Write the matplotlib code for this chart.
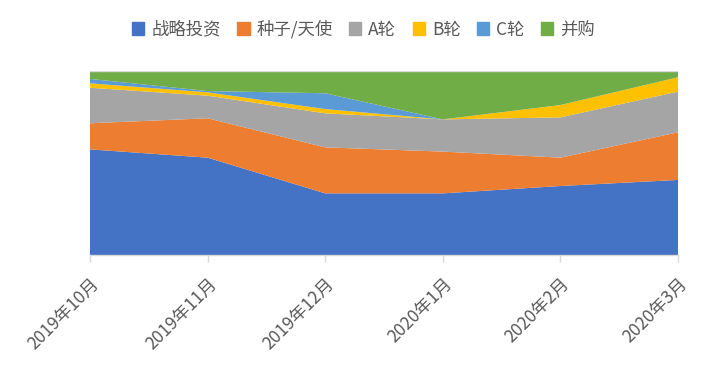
import matplotlib
matplotlib.use("Agg")
import matplotlib.pyplot as plt
import numpy as np

plt.rcParams['font.family'] = ['Noto Sans CJK SC', 'DejaVu Sans']

months = ["2019年10月", "2019年11月", "2019年12月", "2020年1月", "2020年2月", "2020年3月"]
series_names = ["战略投资", "种子/天使", "A轮", "B轮", "C轮", "并购"]
strategic = [57.4, 52.9, 33.5, 33.5, 37.5, 40.8]
seed_angel = [14.2, 21.4, 25.0, 22.7, 15.4, 25.9]
round_a = [19.3, 12.3, 18.5, 17.5, 21.9, 22.1]
round_b = [2.4, 1.8, 2.3, 0.0, 6.7, 7.8]
round_c = [2.4, 0.7, 8.6, 0.0, 0.0, 0.0]
merger = [4.3, 10.9, 12.1, 26.3, 18.5, 3.4]
colors = ["#4472C4", "#ED7D31", "#A5A5A5", "#FFC000", "#5B9BD5", "#70AD47"]

data = np.array([strategic, seed_angel, round_a, round_b, round_c, merger], dtype=float)
data = data / data.sum(axis=0) * 100

fig = plt.figure(figsize=(7.2, 3.66), dpi=100)
ax = fig.add_axes([90/720, 1 - 255/366, (678-90)/720, (255-71)/366])
x = np.arange(len(months))
polys = ax.stackplot(x, data, colors=colors, labels=series_names, linewidth=0)
ax.set_xlim(0, len(months) - 1)
ax.set_ylim(0, 100)
ax.axhline(100, color="#d9d9d9", lw=1, zorder=5)

for s in ["top", "right", "left"]:
    ax.spines[s].set_visible(False)
ax.spines["bottom"].set_color("#d9d9d9")
ax.spines["bottom"].set_linewidth(1)
ax.set_yticks([])
ax.set_xticks(x)
ax.set_xticklabels(months, rotation=45, ha="right", rotation_mode="anchor",
                   fontsize=12.5, color="#595959")
ax.tick_params(axis="x", length=5, color="#d9d9d9", width=1, pad=9)

handles = [plt.Rectangle((0, 0), 1, 1, color=c) for c in colors]
fig.legend(handles, series_names, loc="center", bbox_to_anchor=(0.505, 0.92), ncol=6,
           frameon=False, fontsize=12.5, labelcolor="#595959",
           handlelength=0.7, handleheight=0.7, handletextpad=0.4, columnspacing=0.95)

fig.savefig("out.png", dpi=100)
